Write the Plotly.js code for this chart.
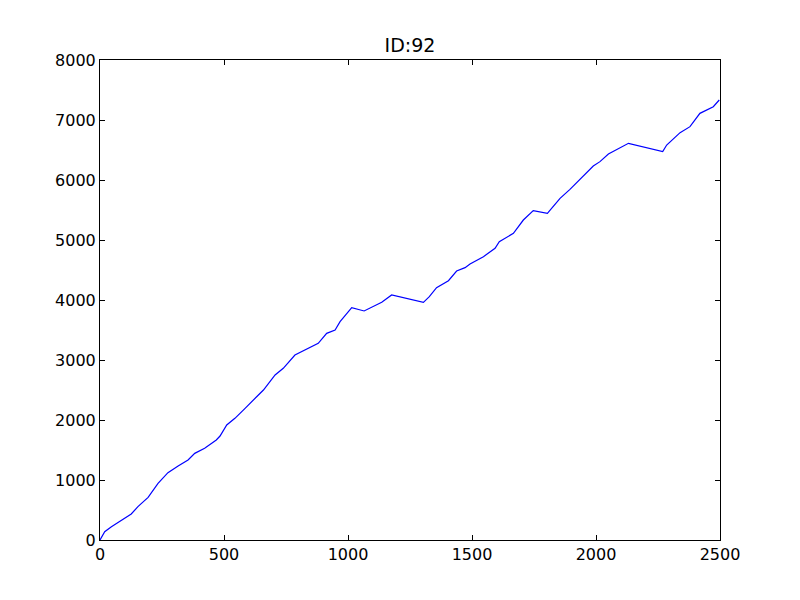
<!DOCTYPE html>
<html>
<head>
<meta charset="utf-8">
<script src="https://cdn.plot.ly/plotly-3.0.1.min.js"></script>
<style>html,body{margin:0;padding:0;background:#fff;}#chart{width:800px;height:600px;}</style>
</head>
<body>
<div id="chart"></div>
<script>
const stepX = [0, 19, 46, 86, 126, 153, 194, 234, 274, 315, 355, 382, 422, 469, 484, 511, 544, 585, 618, 659, 706, 739, 786, 833, 880, 914, 948, 968, 1015, 1065, 1136, 1176, 1304, 1328, 1357, 1405, 1438, 1472, 1492, 1546, 1593, 1610, 1667, 1707, 1747, 1804, 1855, 1895, 1949, 1989, 2016, 2050, 2131, 2269, 2285, 2339, 2379, 2419, 2473, 2497];
const valueY = [0, 139, 222, 333, 433, 556, 711, 944, 1122, 1233, 1333, 1444, 1528, 1667, 1733, 1917, 2028, 2194, 2333, 2500, 2750, 2861, 3083, 3178, 3278, 3444, 3500, 3639, 3872, 3817, 3961, 4083, 3961, 4056, 4206, 4322, 4483, 4539, 4600, 4722, 4861, 4972, 5111, 5333, 5489, 5444, 5694, 5844, 6067, 6233, 6306, 6433, 6611, 6472, 6583, 6789, 6889, 7111, 7222, 7333];
const titleText = "ID:92";
const xTicks = [0, 500, 1000, 1500, 2000, 2500];
const yTicks = [0, 1000, 2000, 3000, 4000, 5000, 6000, 7000, 8000];

const axisCommon = {
  showline: true, linecolor: '#000', linewidth: 1, mirror: 'ticks',
  ticks: 'inside', ticklen: 5, tickwidth: 1, tickcolor: '#000',
  showgrid: false, zeroline: false,
  tickfont: {family: 'DejaVu Sans', size: 16, color: '#000'}
};

Plotly.newPlot('chart', [{
  x: stepX, y: valueY, type: 'scatter', mode: 'lines',
  line: {color: '#0000ff', width: 1.2}
}], {
  width: 800, height: 600,
  margin: {l: 100, r: 80, t: 60, b: 60},
  paper_bgcolor: '#fff', plot_bgcolor: '#fff',
  showlegend: false,
  title: {text: titleText, x: 0.5125, xanchor: 'center', y: 0.925, yanchor: 'middle',
          font: {family: 'DejaVu Sans', size: 19, color: '#000'}},
  xaxis: Object.assign({}, axisCommon, {range: [0, 2500], tickvals: xTicks, ticktext: xTicks.map(String)}),
  yaxis: Object.assign({}, axisCommon, {range: [0, 8000], tickvals: yTicks, ticktext: yTicks.map(String)})
}, {displayModeBar: false, staticPlot: true});
</script>
</body>
</html>
